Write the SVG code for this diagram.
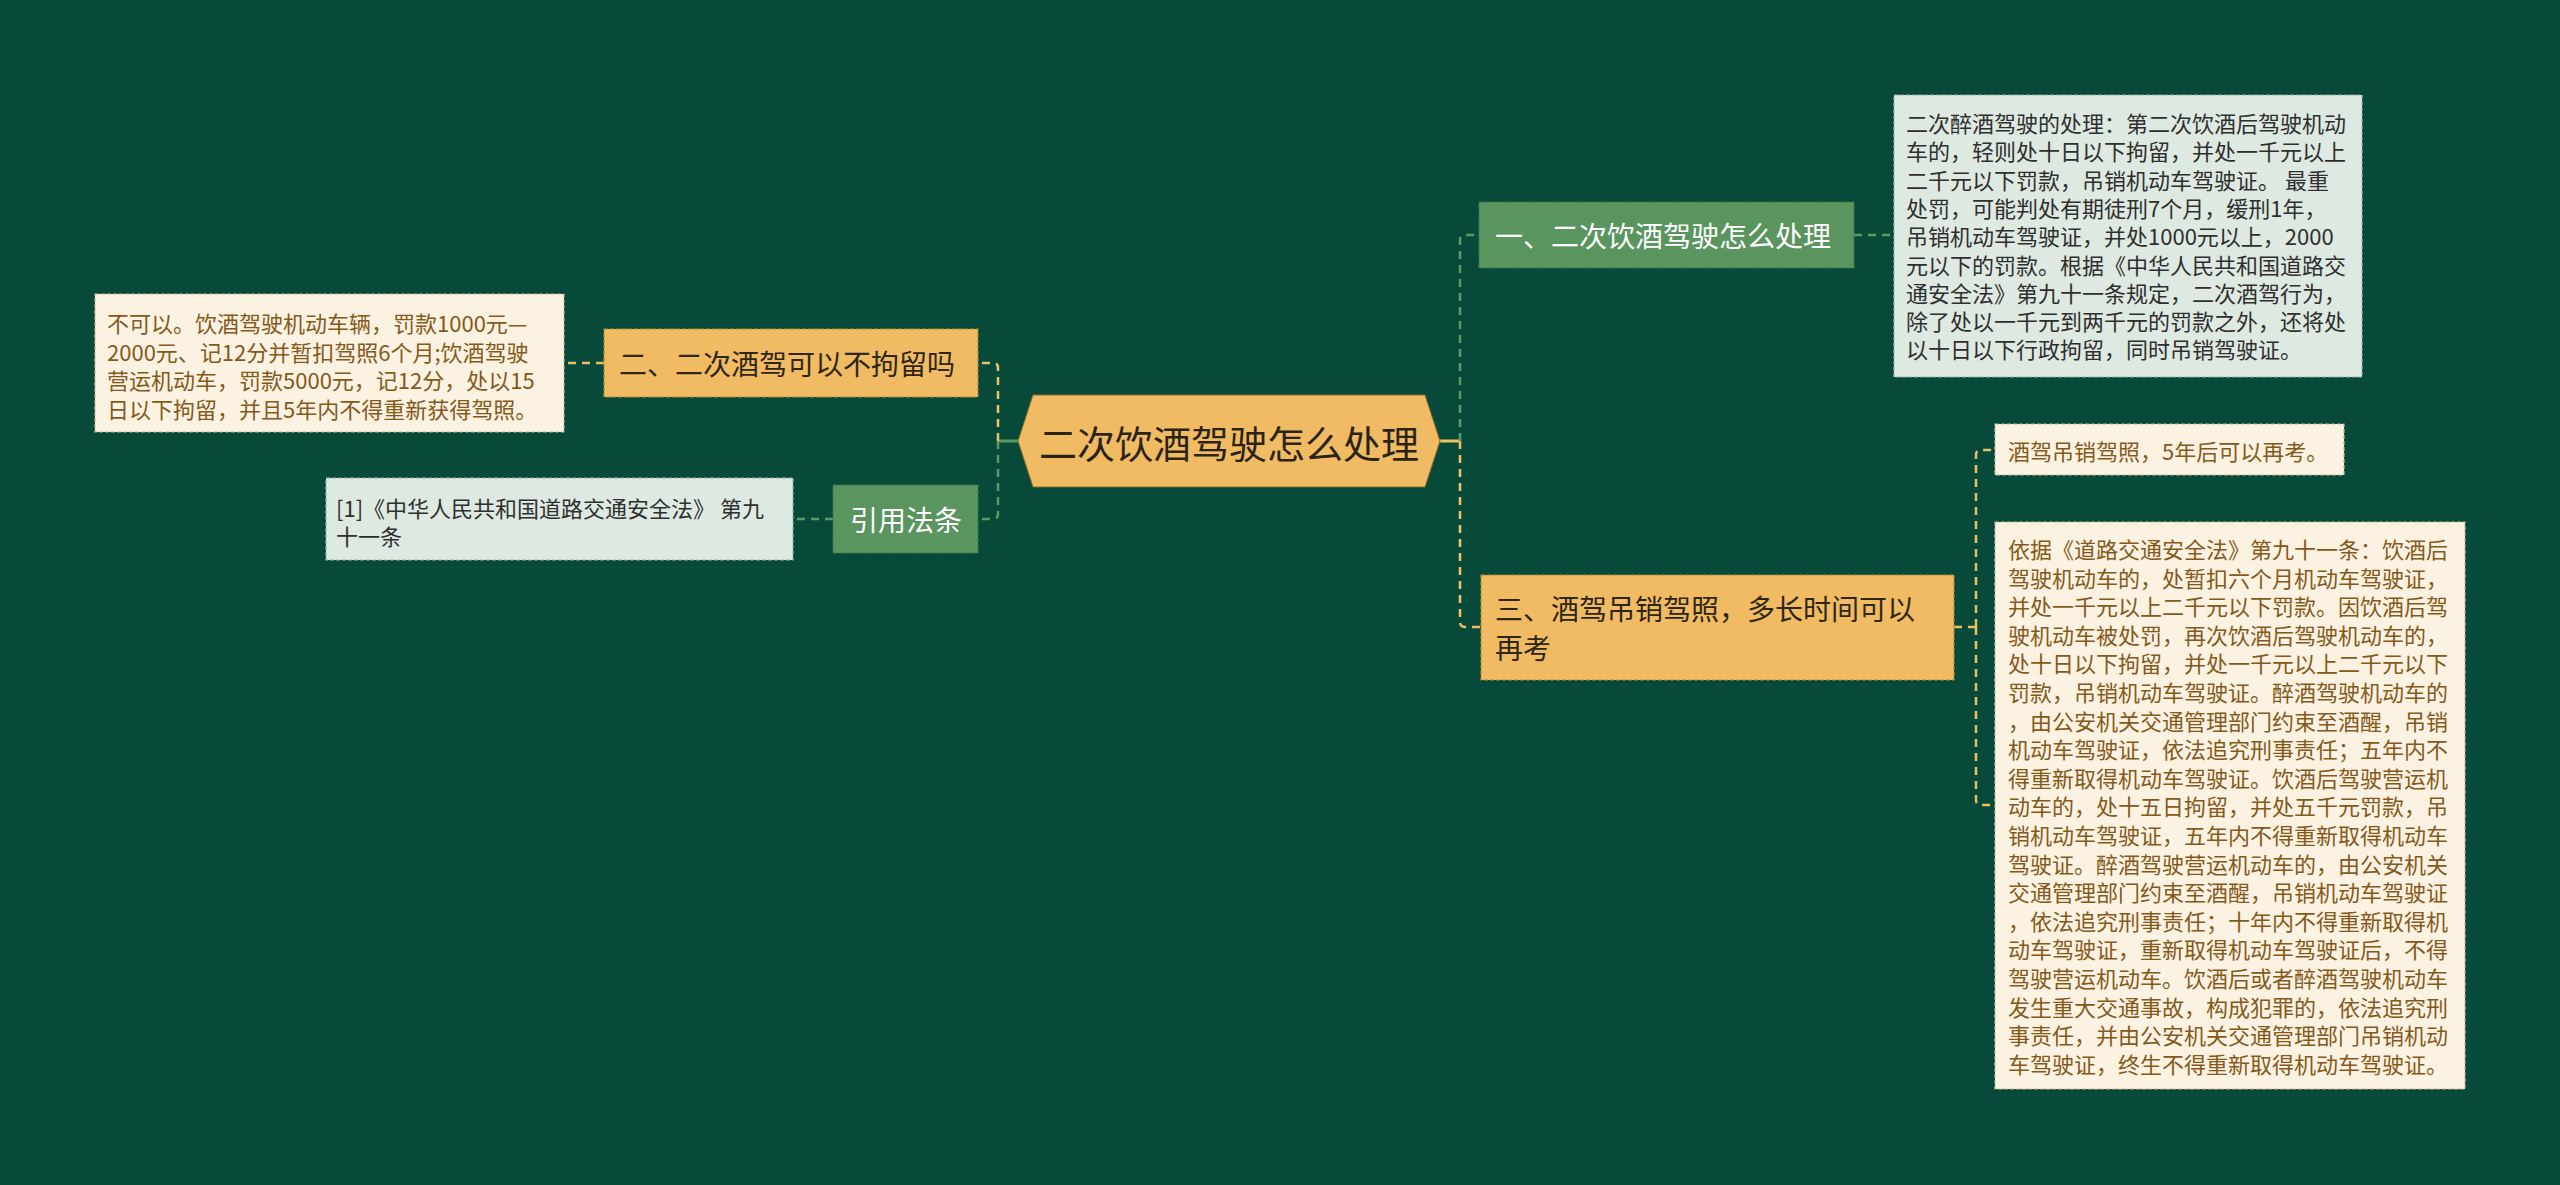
<svg xmlns="http://www.w3.org/2000/svg" width="2560" height="1185" viewBox="0 0 2560 1185">
<style>
text{font-family:"Microsoft YaHei","Noto Sans CJK SC","Noto Sans",sans-serif;dominant-baseline:central}
.cg{fill:none;stroke:#5b9a63;stroke-width:2.5;stroke-dasharray:8 6}
.co{fill:none;stroke:#f0bf63;stroke-width:2.5;stroke-dasharray:8 6}
.sg{fill:none;stroke:#5b9a63;stroke-width:3}
.so{fill:none;stroke:#f0bf63;stroke-width:3}
.ng{fill:#5a955f;stroke:#3f7a48;stroke-width:1.2;stroke-dasharray:4 2}
.no{fill:#f0bb62;stroke:#b8892f;stroke-width:1.2;stroke-dasharray:4 2}
.dg{fill:#dde9e1;stroke:#9fb3a6;stroke-width:1.2;stroke-dasharray:4 2}
.do{fill:#fcf2e2;stroke:#c9b79a;stroke-width:1.2;stroke-dasharray:4 2}
.tw{fill:#ffffff;font-size:28px}
.tb{fill:#2e2616;font-size:28px}
.td{fill:#2f2f2f;font-size:22px}
.tr{fill:#85591a;font-size:22px}
</style>
<rect width="2560" height="1185" fill="#084a3a"/>
<g id="connectors">
<path class="so" d="M1440,441 H1460"/>
<path class="cg" d="M1460,441 V240 Q1460,235 1465,235 H1479"/>
<path class="co" d="M1460,441 V622 Q1460,627 1465,627 H1481"/>
<path class="cg" d="M1854,235 H1894"/>
<path class="co" d="M1954,627 H1976"/>
<path class="co" d="M1976,627 V455 Q1976,450 1981,450 H1995"/>
<path class="co" d="M1976,627 V800 Q1976,805 1981,805 H1995"/>
<path class="sg" d="M1018,441 H998"/>
<path class="co" d="M998,441 V368 Q998,363 993,363 H978"/>
<path class="cg" d="M998,441 V514 Q998,519 993,519 H978"/>
<path class="co" d="M604,363 H564"/>
<path class="cg" d="M833,519 H793"/>
</g>
<g id="root">
<polygon points="1018,441 1033,395 1425,395 1440,441 1425,487 1033,487" fill="#f0bb62" stroke="#8a6a2a" stroke-width="1"/>
<text x="1229" y="441" text-anchor="middle" style="font-size:38px;fill:#2a2416">二次饮酒驾驶怎么处理</text>
</g>
<g id="n1">
<rect class="ng" x="1479" y="202" width="375" height="66"/>
<text class="tw" x="1495" y="235">一、二次饮酒驾驶怎么处理</text>
</g>
<g id="n1d">
<rect class="dg" x="1894" y="95" width="468" height="282"/>
<text class="td" x="1906" y="122">二次醉酒驾驶的处理：第二次饮酒后驾驶机动</text>
<text class="td" x="1906" y="150.3">车的，轻则处十日以下拘留，并处一千元以上</text>
<text class="td" x="1906" y="178.6">二千元以下罚款，吊销机动车驾驶证。 最重</text>
<text class="td" x="1906" y="206.9">处罚，可能判处有期徒刑7个月，缓刑1年，</text>
<text class="td" x="1906" y="235.2">吊销机动车驾驶证，并处1000元以上，2000</text>
<text class="td" x="1906" y="263.5">元以下的罚款。根据《中华人民共和国道路交</text>
<text class="td" x="1906" y="291.8">通安全法》第九十一条规定，二次酒驾行为，</text>
<text class="td" x="1906" y="320.1">除了处以一千元到两千元的罚款之外，还将处</text>
<text class="td" x="1906" y="348.4">以十日以下行政拘留，同时吊销驾驶证。</text>
</g>
<g id="n3">
<rect class="no" x="1481" y="575" width="473" height="105"/>
<text class="tb" x="1495" y="608">三、酒驾吊销驾照，多长时间可以</text>
<text class="tb" x="1495" y="647">再考</text>
</g>
<g id="n3d1">
<rect class="do" x="1995" y="424" width="349" height="51"/>
<text class="tr" x="2008" y="450">酒驾吊销驾照，5年后可以再考。</text>
</g>
<g id="n3d2">
<rect class="do" x="1995" y="522" width="470" height="567"/>
<text class="tr" x="2008" y="548">依据《道路交通安全法》第九十一条：饮酒后</text>
<text class="tr" x="2008" y="576.6">驾驶机动车的，处暂扣六个月机动车驾驶证，</text>
<text class="tr" x="2008" y="605.2">并处一千元以上二千元以下罚款。因饮酒后驾</text>
<text class="tr" x="2008" y="633.8">驶机动车被处罚，再次饮酒后驾驶机动车的，</text>
<text class="tr" x="2008" y="662.4">处十日以下拘留，并处一千元以上二千元以下</text>
<text class="tr" x="2008" y="691">罚款，吊销机动车驾驶证。醉酒驾驶机动车的</text>
<text class="tr" x="2008" y="719.6">，由公安机关交通管理部门约束至酒醒，吊销</text>
<text class="tr" x="2008" y="748.2">机动车驾驶证，依法追究刑事责任；五年内不</text>
<text class="tr" x="2008" y="776.8">得重新取得机动车驾驶证。饮酒后驾驶营运机</text>
<text class="tr" x="2008" y="805.4">动车的，处十五日拘留，并处五千元罚款，吊</text>
<text class="tr" x="2008" y="834">销机动车驾驶证，五年内不得重新取得机动车</text>
<text class="tr" x="2008" y="862.6">驾驶证。醉酒驾驶营运机动车的，由公安机关</text>
<text class="tr" x="2008" y="891.2">交通管理部门约束至酒醒，吊销机动车驾驶证</text>
<text class="tr" x="2008" y="919.8">，依法追究刑事责任；十年内不得重新取得机</text>
<text class="tr" x="2008" y="948.4">动车驾驶证，重新取得机动车驾驶证后，不得</text>
<text class="tr" x="2008" y="977">驾驶营运机动车。饮酒后或者醉酒驾驶机动车</text>
<text class="tr" x="2008" y="1005.6">发生重大交通事故，构成犯罪的，依法追究刑</text>
<text class="tr" x="2008" y="1034.2">事责任，并由公安机关交通管理部门吊销机动</text>
<text class="tr" x="2008" y="1062.8">车驾驶证，终生不得重新取得机动车驾驶证。</text>
</g>
<g id="n2">
<rect class="no" x="604" y="329" width="374" height="68"/>
<text class="tb" x="619" y="363">二、二次酒驾可以不拘留吗</text>
</g>
<g id="n2d">
<rect class="do" x="95" y="294" width="469" height="138"/>
<text class="tr" x="107" y="322">不可以。饮酒驾驶机动车辆，罚款1000元—</text>
<text class="tr" x="107" y="350.5">2000元、记12分并暂扣驾照6个月;饮酒驾驶</text>
<text class="tr" x="107" y="379">营运机动车，罚款5000元，记12分，处以15</text>
<text class="tr" x="107" y="407.5">日以下拘留，并且5年内不得重新获得驾照。</text>
</g>
<g id="n4">
<rect class="ng" x="833" y="485" width="145" height="68"/>
<text class="tw" x="850" y="519">引用法条</text>
</g>
<g id="n4d">
<rect class="dg" x="326" y="478" width="467" height="82"/>
<text class="td" x="336" y="507">[1]《中华人民共和国道路交通安全法》 第九</text>
<text class="td" x="336" y="535">十一条</text>
</g>
</svg>
